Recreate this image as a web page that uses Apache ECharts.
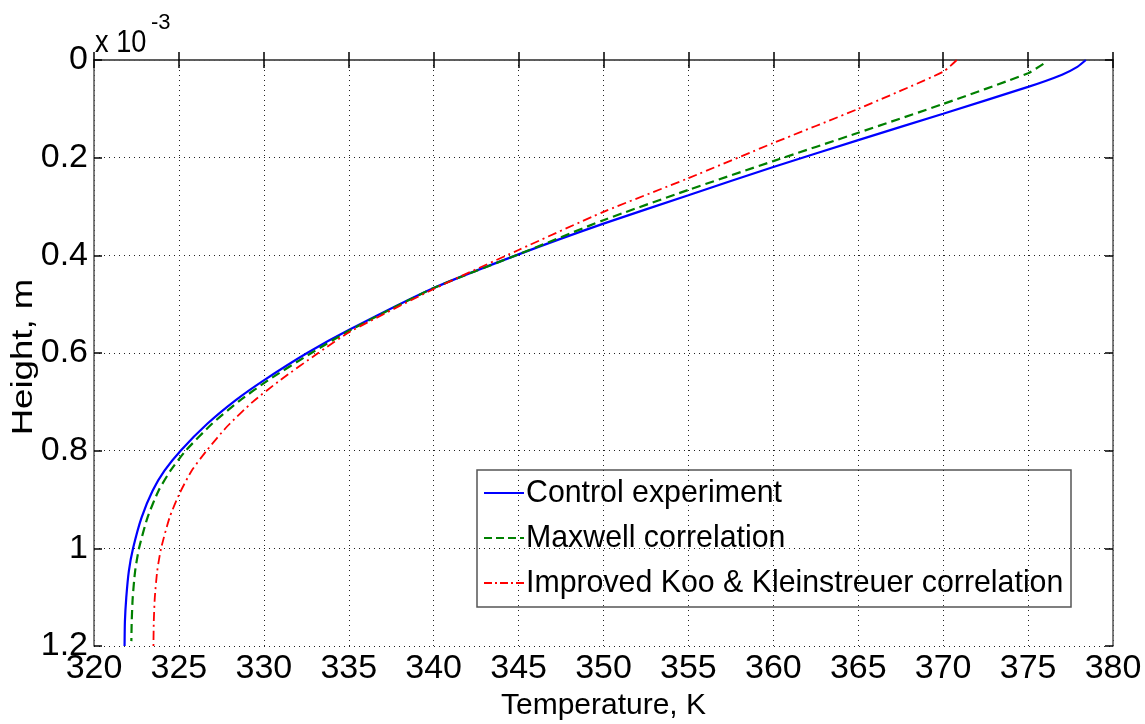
<!DOCTYPE html>
<html>
<head>
<meta charset="utf-8">
<script src="https://cdn.jsdelivr.net/npm/echarts@6/dist/echarts.min.js"></script>
<style>html,body{margin:0;padding:0;background:#fff;overflow:hidden}#c{width:1145px;height:724px}</style>
</head>
<body>
<div id="c"></div>
<script>
// Height in units of 1e-3 m, temperature in K
const seriesNames = ['Control experiment', 'Maxwell correlation', 'Improved Koo & Kleinstreuer correlation'];
const xTicks = [320, 325, 330, 335, 340, 345, 350, 355, 360, 365, 370, 375, 380];
const yTicks = [0, 0.2, 0.4, 0.6, 0.8, 1, 1.2];

const controlT = [378.4, 377.9, 377.0, 375.0, 370.0, 365.0, 360.0, 355.0, 350.0, 345.0, 340.0, 335.0, 332.55, 330.0, 328.33, 326.67, 325.1, 324.15, 323.45, 322.8, 322.3, 322.05, 321.9, 321.82, 321.8];
const controlH = [0.0, 0.014, 0.03, 0.055, 0.11, 0.164, 0.219, 0.277, 0.335, 0.398, 0.467, 0.553, 0.6, 0.656, 0.697, 0.745, 0.8, 0.841, 0.882, 0.937, 1.0, 1.047, 1.101, 1.15, 1.2];

const maxwellT = [375.9, 375.0, 370.0, 365.0, 360.0, 355.0, 350.0, 345.0, 340.0, 335.1, 332.8, 330.25, 328.6, 326.95, 325.4, 324.5, 323.8, 323.15, 322.65, 322.42, 322.28, 322.22, 322.2];
const maxwellH = [0.008, 0.027, 0.09, 0.149, 0.207, 0.266, 0.328, 0.398, 0.467, 0.553, 0.6, 0.656, 0.697, 0.745, 0.8, 0.841, 0.882, 0.937, 1.0, 1.047, 1.101, 1.15, 1.19];

const kooT = [370.8, 370.0, 365.0, 360.0, 355.0, 350.0, 345.0, 340.0, 335.1, 333.2, 330.95, 329.35, 327.85, 326.63, 325.75, 325.02, 324.45, 323.95, 323.72, 323.58, 323.52, 323.5];
const kooH = [0.0, 0.024, 0.10, 0.170, 0.242, 0.311, 0.389, 0.469, 0.556, 0.6, 0.656, 0.70, 0.75, 0.8, 0.841, 0.889, 0.937, 1.0, 1.047, 1.101, 1.15, 1.2];

const colors = ['#0000ff', '#008000', '#ff0000'];
const FONT = '"Liberation Sans", Arial, Helvetica, sans-serif';

function pairs(t, h) { return t.map((v, i) => [v, h[i]]); }

const chart = echarts.init(document.getElementById('c'), null, {renderer: 'canvas'});

const axisCommon = {
  type: 'value',
  axisLine: {show: true, lineStyle: {color: '#555', width: 1.5}},
  axisTick: {show: true, inside: true, length: 8, lineStyle: {color: '#000', width: 1.5}},
};

const option = {
  animation: false,
  backgroundColor: '#fff',
  grid: {left: 94, top: 60, right: 32, bottom: 78, containLabel: false, outerBoundsMode: 'none'},
  xAxis: [
    Object.assign({}, axisCommon, {
      position: 'bottom', min: xTicks[0], max: xTicks[xTicks.length - 1], interval: 5,
      name: 'Temperature, K', nameLocation: 'middle', nameGap: 44,
      nameTextStyle: {fontFamily: FONT, fontSize: 30, color: '#000'},
      axisLabel: {fontFamily: FONT, fontSize: 34, color: '#000', margin: 6},
      splitLine: {show: true, lineStyle: {color: '#222', type: [1, 4], width: 1}}
    }),
    Object.assign({}, axisCommon, {
      position: 'top', min: xTicks[0], max: xTicks[xTicks.length - 1], interval: 5,
      axisLabel: {show: false}, splitLine: {show: false}
    })
  ],
  yAxis: [
    Object.assign({}, axisCommon, {
      position: 'left', inverse: true, min: yTicks[0], max: yTicks[yTicks.length - 1], interval: 0.2,
      axisLabel: {fontFamily: FONT, fontSize: 34, color: '#000', margin: 6,
        formatter: v => String(Math.round(v * 10) / 10)},
      splitLine: {show: true, lineStyle: {color: '#222', type: [1, 4], width: 1}}
    }),
    Object.assign({}, axisCommon, {
      position: 'right', inverse: true, min: yTicks[0], max: yTicks[yTicks.length - 1], interval: 0.2,
      axisLabel: {show: false}, splitLine: {show: false}
    })
  ],
  series: [
    {name: seriesNames[0], type: 'line', xAxisIndex: 0, yAxisIndex: 0, smooth: 0.2, symbol: 'none',
     data: pairs(controlT, controlH), lineStyle: {color: colors[0], width: 2.2}, z: 3},
    {name: seriesNames[1], type: 'line', xAxisIndex: 0, yAxisIndex: 0, smooth: 0.2, symbol: 'none',
     data: pairs(maxwellT, maxwellH), lineStyle: {color: colors[1], width: 2.2, type: [9, 5]}, z: 4},
    {name: seriesNames[2], type: 'line', xAxisIndex: 0, yAxisIndex: 0, smooth: 0.2, symbol: 'none',
     data: pairs(kooT, kooH), lineStyle: {color: colors[2], width: 1.8, type: [9, 4, 2, 4]}, z: 5}
  ],
  graphic: [
    {type: 'text', x: 95, y: 27, z: 10, scaleX: 0.85,
     style: {text: 'x 10', font: '32px ' + FONT, fill: '#000'}},
    {type: 'text', x: 151, y: 12, z: 10,
     style: {text: '-3', font: '22px ' + FONT, fill: '#000'}},
    {type: 'text', x: 24, y: 357, rotation: Math.PI / 2, scaleX: 1.22, z: 10,
     style: {text: 'Height, m', font: '30px ' + FONT, fill: '#000', align: 'center', verticalAlign: 'middle'}},
    {type: 'group', x: 477, y: 470, z: 20, children: [
      {type: 'rect', shape: {x: 0, y: 0, width: 594, height: 137},
       style: {fill: '#fff', stroke: '#555', lineWidth: 1.5}},
      {type: 'line', shape: {x1: 7, y1: 23, x2: 47, y2: 23}, style: {stroke: colors[0], lineWidth: 2}},
      {type: 'line', shape: {x1: 7, y1: 68, x2: 47, y2: 68}, style: {stroke: colors[1], lineWidth: 2, lineDash: [8, 4]}},
      {type: 'line', shape: {x1: 7, y1: 113, x2: 47, y2: 113}, style: {stroke: colors[2], lineWidth: 2, lineDash: [8, 3, 2, 3]}},
      {type: 'text', x: 49, y: 23, scaleX: 0.947, style: {text: seriesNames[0], font: '32px ' + FONT, fill: '#000', verticalAlign: 'middle'}},
      {type: 'text', x: 49, y: 68, scaleX: 0.947, style: {text: seriesNames[1], font: '32px ' + FONT, fill: '#000', verticalAlign: 'middle'}},
      {type: 'text', x: 49, y: 113, scaleX: 0.947, style: {text: seriesNames[2], font: '32px ' + FONT, fill: '#000', verticalAlign: 'middle'}}
    ]}
  ]
};
chart.setOption(option);
</script>
</body>
</html>
